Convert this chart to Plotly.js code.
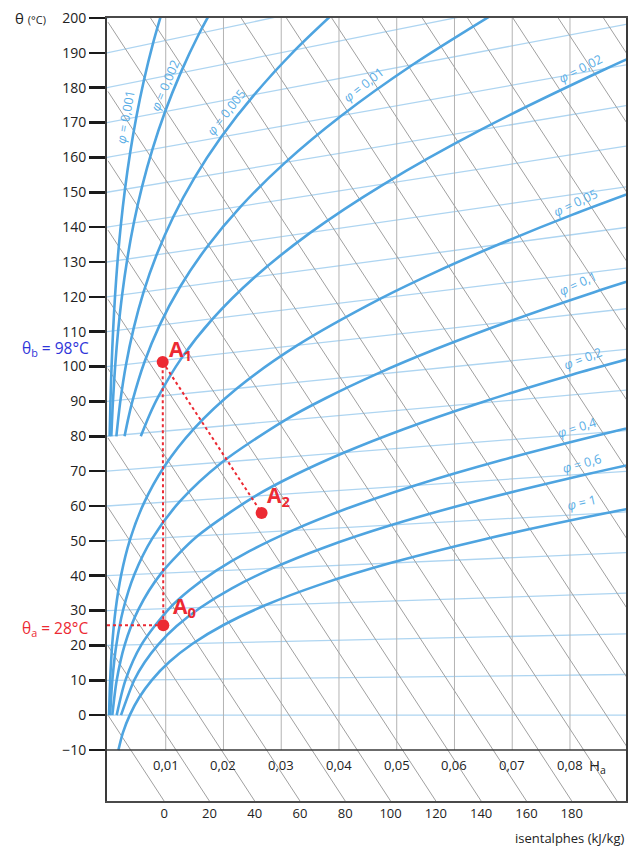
<!DOCTYPE html>
<html><head><meta charset="utf-8">
<script src="https://cdn.plot.ly/plotly-3.0.1.min.js"></script>
<style>html,body{margin:0;padding:0;background:#fff}</style></head>
<body><div id="chart" style="width:636px;height:848px"></div>
<script>
// ---- axis ticks / labels ----
const Hticks = [0.01,0.02,0.03,0.04,0.05,0.06,0.07,0.08];
const HtickText = ['0,01','0,02','0,03','0,04','0,05','0,06','0,07','0,08'];
const Yticks = [-10,0,10,20,30,40,50,60,70,80,90,100,110,120,130,140,150,160,170,180,190,200];
const hLabels = ['0','20','40','60','80','100','120','140','160','180'];
const hLabelPos = [0.00972,0.01756,0.02540,0.03325,0.04109,0.04893,0.05678,0.06462,0.07246,0.08030];

// ---- isotherms (light blue) : value at H=0 and at right edge H=0.0897 ----
const isoT = [0,10,20,30,40,50,60,70,80,90,100,110,120,130,140,150,160,170,180,190,200];
const isoTEndY = [0,11.66,23.32,34.98,46.63,58.29,69.95,81.61,93.27,104.93,116.59,128.24,139.90,151.56,163.22,174.88,186.54,198.20,209.86,221.51,233.17];
const isoTEndH = 0.0897;

// ---- isenthalps (gray) : start at H=0, end at theta=-40 ----
const hVals = [0,20,40,60,80,100,120,140,160,180,200,220,240,260,280,300,320,340,360,380,400,420];
const hStartY = [0,19.88,39.76,59.64,79.52,99.40,119.28,139.17,159.05,178.93,198.81,218.69,238.57,258.45,278.33,298.21,318.09,337.97,357.85,377.73,397.61,417.50];
const hEndH = [0.01578,0.02362,0.03147,0.03931,0.04715,0.05500,0.06284,0.07068,0.07853,0.08637,0.09421,0.10206,0.10990,0.11774,0.12559,0.13343,0.14127,0.14911,0.15696,0.16480,0.17265,0.18049];
const hEndY = -40;

// ---- relative humidity curves ----
const phi1H = [0.0018,0.00259,0.003774,0.005403,0.007632,0.010650,0.014699,0.020086,0.027210,0.036584,0.048894,0.065057,0.086343,0.09737];
const phi1Y = [-10.03,-5.02,0,5.05,10.14,15.30,20.54,25.93,31.51,37.37,43.62,50.41,57.98,61.4];
const phi06H = [0.002260,0.004557,0.006347,0.008737,0.011898,0.016045,0.021446,0.028442,0.037466,0.049081,0.064027,0.083306,0.09238];
const phi06Y = [0,10.08,15.18,20.32,25.55,30.89,36.39,42.10,48.12,54.54,61.51,69.24,72.6];
const phi04H = [0.001505,0.003031,0.005797,0.010606,0.014135,0.018677,0.024486,0.031882,0.041268,0.053163,0.068231,0.087375,0.09643];
const phi04Y = [0,10.06,20.21,30.59,35.91,41.38,47.04,52.95,59.20,65.90,73.20,81.31,84.8];
const phi02H = [0.000751,0.001512,0.002885,0.005258,0.009200,0.015543,0.025492,0.032342,0.040820,0.051292,0.064222,0.080206,0.10002];
const phi02Y = [0,10.03,20.11,30.29,40.68,51.44,62.83,68.89,75.28,82.11,89.50,97.61,106.6];
const phi01H = [0.000375,0.000755,0.001439,0.002618,0.004566,0.007675,0.012490,0.019762,0.030535,0.037674,0.046289,0.056670,0.069183,0.084192,0.10252];
const phi01Y = [0,10.01,20.05,30.15,40.34,50.71,61.39,72.56,84.52,90.92,97.70,104.95,112.79,121.35,130.9];
const phi005H = [0.000188,0.000377,0.000719,0.001306,0.002275,0.003814,0.006183,0.009726,0.014902,0.022314,0.032769,0.047358,0.056628,0.067606,0.080454,0.095725];
const phi005Y = [0,10.0,20.03,30.07,40.17,50.35,60.69,71.26,82.20,93.71,106.06,119.63,127.04,135.00,143.6,153.0];
const phi002H = [0.00568,0.007187,0.008737,0.012706,0.018116,0.025387,0.035053,0.047798,0.064524,0.086438,0.099884];
const phi002Y = [80,86.13,91.45,102.35,113.68,125.63,138.43,152.37,167.90,185.57,195.5];
const phi001H = [0.00287,0.003573,0.004338,0.006289,0.008928,0.012440,0.017046,0.023015,0.030671,0.040411,0.052755,0.068320];
const phi001Y = [80,85.56,90.72,101.16,111.82,122.76,134.10,145.96,158.51,171.96,186.58,202.74];
const phi0005H = [0.00145,0.002162,0.003129,0.004432,0.006158,0.008408,0.011299,0.014967,0.019570,0.025305,0.032382,0.041042];
const phi0005Y = [80,90.36,100.58,110.90,121.37,132.02,142.92,154.15,165.79,177.95,190.78,204.42];
const phi0002H = [0.00058,0.000863,0.001248,0.001765,0.002449,0.003336,0.004471,0.005901,0.007683,0.009881,0.012560,0.015792,0.019680];
const phi0002Y = [80,90.14,100.23,110.36,120.54,130.80,141.16,151.64,162.27,173.11,184.18,195.55,207.28];
const phi0001H = [0.000291,0.000431,0.000623,0.000881,0.001222,0.001664,0.002227,0.002937,0.003818,0.004901,0.006217,0.007797,0.009687];
const phi0001Y = [80.04,90.07,100.12,110.18,120.27,130.40,140.58,150.81,161.13,171.54,182.07,192.74,203.58];

const phiText = ['1','0,6','0,4','0,2','0,1','0,05','0,02','0,01','0,005','0,002','0,001'];
const phiLabelH = [0.08208,0.08208,0.08121,0.08225,0.08139,0.08104,0.08190,0.04433,0.02043,0.00987,0.00312];
const phiLabelY = [61.1,72.3,82.6,102.4,123.9,147.2,185.6,181.0,173.0,180.7,171.6];
const phiLabelAngle = [-13,-15,-17,-21,-24,-25,-27,-38,-52,-67,-80];

// ---- points A0, A1, A2 ----
const ptNames = ['A<sub>0</sub>','A<sub>1</sub>','A<sub>2</sub>'];
const ptH = [0.00958,0.00947,0.0266];
const ptY = [25.8,101.3,58.0];
const ptLabelH = [0.01333,0.01247,0.02944];
const ptLabelY = [31.0,104.8,62.8];

const curveColor = '#4ea4e0';
const traces = [];

// isotherms
const isoX = [], isoY = [];
isoT.forEach((t,i)=>{ isoX.push(-0.0002, isoTEndH, null); isoY.push(t, isoTEndY[i], null); });
traces.push({x:isoX,y:isoY,mode:'lines',line:{color:'#aed5f1',width:1.3},hoverinfo:'skip'});

// vertical grid (H) from -10 to 200
const vgX = [], vgY = [];
Hticks.forEach(h=>{ vgX.push(h,h,null); vgY.push(-10,200,null); });
traces.push({x:vgX,y:vgY,mode:'lines',line:{color:'#b3b3b3',width:1},hoverinfo:'skip'});

// isenthalps
const ihX = [], ihY = [];
hVals.forEach((h,i)=>{ ihX.push(0, hEndH[i], null); ihY.push(hStartY[i], hEndY, null); });
traces.push({x:ihX,y:ihY,mode:'lines',line:{color:'#a0a0a0',width:1},hoverinfo:'skip'});

// phi curves
[[phi1H,phi1Y],[phi06H,phi06Y],[phi04H,phi04Y],[phi02H,phi02Y],[phi01H,phi01Y],[phi005H,phi005Y],
 [phi002H,phi002Y],[phi001H,phi001Y],[phi0005H,phi0005Y],[phi0002H,phi0002Y],[phi0001H,phi0001Y]].forEach(c=>{
  traces.push({x:c[0],y:c[1],mode:'lines',line:{color:curveColor,width:2.6,shape:'spline',smoothing:0.8},hoverinfo:'skip'});
});

// red dotted construction lines
const red = '#ec2a33';
traces.push({x:[-0.00017,ptH[0]],y:[ptY[0],ptY[0]],mode:'lines',line:{color:red,width:2,dash:'dot'},hoverinfo:'skip'});
traces.push({x:[ptH[0],ptH[1]],y:[ptY[0],ptY[1]],mode:'lines',line:{color:red,width:2,dash:'dot'},hoverinfo:'skip'});
traces.push({x:[ptH[1],ptH[2]],y:[ptY[1],ptY[2]],mode:'lines',line:{color:red,width:2,dash:'dot'},hoverinfo:'skip'});
traces.push({x:ptH,y:ptY,mode:'markers',marker:{color:red,size:12},hoverinfo:'skip'});

const annotations = [];
// H tick labels inside the bottom box
Hticks.forEach((h,i)=>annotations.push({x:h,y:-14.4,xref:'x',yref:'y',text:HtickText[i],showarrow:false,font:{size:13,color:'#222'}}));
annotations.push({x:0.0848,y:-14.6,xref:'x',yref:'y',text:'H<sub>a</sub>',showarrow:false,font:{size:15,color:'#222'}});
// phi labels
phiText.forEach((t,i)=>annotations.push({x:phiLabelH[i],y:phiLabelY[i],xref:'x',yref:'y',text:'<i>φ</i> = '+t,showarrow:false,textangle:phiLabelAngle[i],font:{size:12.5,color:'#5aaee6'}}));
// point labels
ptNames.forEach((t,i)=>annotations.push({x:ptLabelH[i],y:ptLabelY[i],xref:'x',yref:'y',text:'<b>'+t+'</b>',showarrow:false,font:{size:21,color:red}}));
// temperature labels
annotations.push({x:-0.1,y:105.3,xref:'paper',yref:'y',xanchor:'center',yanchor:'middle',text:'θ<sub>b</sub> = 98°C',showarrow:false,font:{size:15.5,color:'#2f35d9'}});
annotations.push({x:-0.1,y:25.0,xref:'paper',yref:'y',xanchor:'center',yanchor:'middle',text:'θ<sub>a</sub> = 28°C',showarrow:false,font:{size:15.5,color:red}});
annotations.push({x:-0.113,y:1.0,xref:'paper',yref:'paper',xanchor:'right',yanchor:'middle',text:'θ <span style="font-size:11px">(°C)</span>',showarrow:false,font:{size:15,color:'#222'}});
annotations.push({x:1.0,y:-0.047,xref:'paper',yref:'paper',xanchor:'right',yanchor:'middle',text:'isentalphes (kJ/kg)',showarrow:false,font:{size:13,color:'#222'}});

const layout = {
  width:636,height:848,
  margin:{l:107,r:10,t:18,b:47,pad:0},
  paper_bgcolor:'#fff',plot_bgcolor:'#fff',
  showlegend:false,
  font:{family:'"Open Sans", "Noto Sans", sans-serif',color:'#222'},
  xaxis:{range:[-0.00017,0.0897],showgrid:false,zeroline:false,showline:true,mirror:true,linecolor:'#4a4a4a',linewidth:1.6,
         tickmode:'array',tickvals:hLabelPos,ticktext:hLabels,ticks:'',tickfont:{size:13,color:'#222'},fixedrange:true},
  yaxis:{range:[-24.63,200],showgrid:false,zeroline:false,showline:true,mirror:true,linecolor:'#3a3a3a',linewidth:2,
         tickmode:'array',tickvals:Yticks,ticks:'outside',ticklen:16,tickwidth:2.5,tickcolor:'#1a1a1a',
         tickfont:{size:14,color:'#222'},fixedrange:true},
  shapes:[{type:'line',xref:'paper',yref:'y',x0:0,x1:1,y0:-10,y1:-10,line:{color:'#3a3a3a',width:1.6}}],
  annotations:annotations
};
Plotly.newPlot('chart',traces,layout,{displayModeBar:false,staticPlot:true});
</script></body></html>
